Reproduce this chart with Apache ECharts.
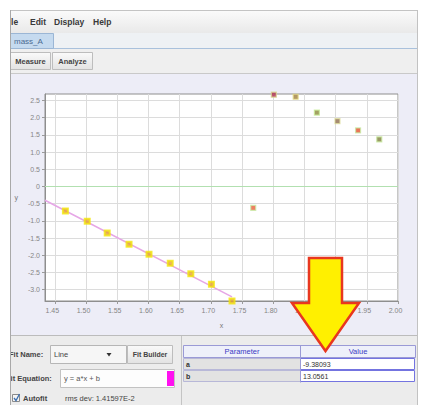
<!DOCTYPE html>
<html>
<head>
<meta charset="utf-8">
<script src="https://cdn.jsdelivr.net/npm/echarts@6/dist/echarts.min.js"></script>
<style>
  html, body { margin: 0; padding: 0; background: #fff; }
  #chart { width: 421px; height: 405px; }
</style>
</head>
<body>
<div id="chart"></div>
<script>
// Points included in the straight-line fit
const fitX = [1.467, 1.502, 1.534, 1.569, 1.601, 1.635, 1.668, 1.701, 1.734];
const fitY = [-0.71, -1.01, -1.35, -1.68, -1.97, -2.23, -2.54, -2.84, -3.33];

// Remaining measured points
const otherX = [1.768, 1.801, 1.836, 1.870, 1.903, 1.936, 1.970];
const otherY = [-0.62, 2.67, 2.61, 2.15, 1.90, 1.63, 1.37];

// Fit model y = a*x + b and its parameters
const fitEquation = 'y = a*x + b';
const paramNames = ['a', 'b'];
const paramValues = [-9.38093, 13.0561];
const rmsText = 'rms dev: 1.41597E-2';

// Axis ranges and tick labels
const xRange = [1.4343, 2.0];
const yRange = [-3.33, 2.69];
const xTicks = [1.45, 1.50, 1.55, 1.60, 1.65, 1.70, 1.75, 1.80, 1.85, 1.90, 1.95, 2.00];
const yTicks = [-3.0, -2.5, -2.0, -1.5, -1.0, -0.5, 0, 0.5, 1.0, 1.5, 2.0, 2.5];

// Marker colours for the unfitted points
const otherColors = ['#e8603c', '#b03050', '#a08040', '#8c8a3c', '#906e50', '#e4522e', '#80803e'];
const otherBorders = ['#c8eca8', '#d8d890', '#e8e088', '#c8ec98', '#e0e0a0', '#c8eca8', '#c8e8a0'];

const FONT = '"Liberation Sans", Arial, sans-serif';

const chart = echarts.init(document.getElementById('chart'), null, { renderer: 'svg' });

// straight line from the fit parameters, over the fitted span
const a = paramValues[0], b = paramValues[1];
const lineStart = xRange[0];
const lineEnd = Math.max.apply(null, fitX);
const fitLine = [[lineStart, a * lineStart + b], [lineEnd, a * lineEnd + b]];

function txt(text, x, y, opt) {
  opt = opt || {};
  return {
    type: 'text', z: opt.z || 5, silent: true,
    style: {
      text: text, x: x, y: y,
      font: (opt.weight || 'normal') + ' ' + (opt.size || 8) + 'px ' + FONT,
      fill: opt.color || '#333',
      align: opt.align || 'left', textAlign: opt.align || 'left',
      verticalAlign: 'middle', textVerticalAlign: 'middle'
    }
  };
}
function box(x, y, w, h, fill, stroke, z) {
  return {
    type: 'rect', z: z || 1, silent: true,
    shape: { x: x, y: y, width: w, height: h },
    style: { fill: fill, stroke: stroke || null, lineWidth: stroke ? 1 : 0 }
  };
}
function hline(x1, x2, y, color, z) {
  return { type: 'line', z: z || 2, silent: true, shape: { x1: x1, y1: y, x2: x2, y2: y }, style: { stroke: color, lineWidth: 1 } };
}
function vline(x, y1, y2, color, z) {
  return { type: 'line', z: z || 2, silent: true, shape: { x1: x, y1: y1, x2: x, y2: y2 }, style: { stroke: color, lineWidth: 1 } };
}
function grad(top, bottom) {
  return new echarts.graphic.LinearGradient(0, 0, 0, 1, [{ offset: 0, color: top }, { offset: 1, color: bottom }]);
}

const ui = [
  // menu bar
  box(10, 10, 408, 23, grad('#fbfbfb', '#e9e9e9')),
  hline(10, 418, 10.5, '#c4c4c4'),
  txt('File', 3.5, 22, { weight: 'bold', size: 8.5, color: '#3a3a3a' }),
  txt('Edit', 30, 22, { weight: 'bold', size: 8.5, color: '#3a3a3a' }),
  txt('Display', 54, 22, { weight: 'bold', size: 8.5, color: '#3a3a3a' }),
  txt('Help', 93, 22, { weight: 'bold', size: 8.5, color: '#3a3a3a' }),

  // document tab strip
  box(10, 33, 408, 16, '#eef1f4'),
  hline(10, 418, 48.5, '#a9c1dc'),
  box(10.5, 33.5, 43, 15, '#c5daef', '#9bb6d5', 3),
  txt('mass_A', 14, 41, { size: 8, color: '#4b6a92' }),

  // Measure / Analyze buttons
  box(10, 49, 408, 24, '#efefef'),
  box(10.5, 52.5, 40, 17, grad('#fafafa', '#e3e3e3'), '#bdbdbd', 3),
  box(52.5, 52.5, 40, 17, grad('#fafafa', '#e3e3e3'), '#bdbdbd', 3),
  txt('Measure', 30.5, 61, { weight: 'bold', size: 7.5, color: '#444', align: 'center' }),
  txt('Analyze', 72.5, 61, { weight: 'bold', size: 7.5, color: '#444', align: 'center' }),
  hline(10, 418, 73.5, '#c9c9c9'),

  // plot panel background
  box(10, 74, 408, 262, '#ededf7', null, -1),

  // lower control area
  box(10, 336, 408, 69, '#ececec'),
  hline(10, 418, 335.5, '#bcbcbc'),
  vline(181.5, 336, 405, '#c4c4c4'),

  // fit name row
  txt('Fit Name:', 9, 354.5, { weight: 'bold', size: 7.5, color: '#444' }),
  box(50.5, 345.5, 76, 18, '#f6f6f6', '#b6b6b6', 3),
  txt('Line', 54, 354.5, { size: 7.5, color: '#444' }),
  { type: 'polygon', z: 4, silent: true, shape: { points: [[106.5, 353], [111.5, 353], [109, 356.5]] }, style: { fill: '#333' } },
  box(127.5, 345.5, 45, 18, grad('#fafafa', '#e2e2e2'), '#bdbdbd', 3),
  txt('Fit Builder', 150, 354.5, { weight: 'bold', size: 7, color: '#444', align: 'center' }),

  // fit equation row
  txt('Fit Equation:', 6, 378, { weight: 'bold', size: 7.5, color: '#444' }),
  box(60.5, 369.5, 114, 18, '#fdfdfd', '#c2c2c2', 3),
  txt(fitEquation, 64, 378, { size: 7.5, color: '#555' }),
  box(167, 371, 7, 15, '#ff10f0', null, 4),

  // autofit row
  box(12.5, 394.5, 7, 7, '#f4f4f4', '#8a8a8a', 3),
  { type: 'polyline', z: 4, silent: true, shape: { points: [[14, 398], [16, 400.5], [19.5, 394]] }, style: { stroke: '#3b6fb0', lineWidth: 1.3, fill: null } },
  txt('Autofit', 23, 398.5, { weight: 'bold', size: 7.5, color: '#444' }),
  txt(rmsText, 65, 398.5, { size: 7.5, color: '#444' }),

  // parameter table
  box(183.5, 345.5, 232, 12, '#eef0fa', '#9a9ad6', 3),
  vline(300.5, 345.5, 382.5, '#9a9ad6', 4),
  txt('Parameter', 242, 351.5, { size: 7.5, color: '#3a3ac4', align: 'center' }),
  txt('Value', 358, 351.5, { size: 7.5, color: '#3a3ac4', align: 'center' }),
  box(183.5, 358.5, 117, 11, '#e2e2e2', '#b8b8d8', 3),
  box(183.5, 370.5, 117, 11, '#e2e2e2', '#b8b8d8', 3),
  box(300.5, 358.5, 114, 11, '#ffffff', '#7474e0', 3),
  box(300.5, 370.5, 114, 11, '#ffffff', '#7474e0', 3),
  txt(paramNames[0], 186, 364.5, { weight: 'bold', size: 7, color: '#333' }),
  txt(paramNames[1], 186, 376.5, { weight: 'bold', size: 7, color: '#333' }),
  txt(String(paramValues[0]), 303, 364.5, { size: 7, color: '#333' }),
  txt(String(paramValues[1]), 303, 376.5, { size: 7, color: '#333' }),

  // window edges
  vline(10.5, 10, 405, '#a9a9a9', 40),
  vline(417.5, 10, 405, '#c2c2c2', 40),
  box(0, 0, 10, 405, '#ffffff', null, 50),
  box(418, 0, 3, 405, '#ffffff', null, 50),

  // highlight arrow pointing at the parameter table
  {
    type: 'polygon', z: 60, silent: true,
    shape: { points: [[309, 258], [342, 258], [342, 303], [359, 303], [325.5, 351], [292, 303], [309, 303]] },
    style: { fill: '#fff000', stroke: '#e8371f', lineWidth: 2.5, lineJoin: 'miter' }
  }
];

const axisLabelStyle = { fontSize: 7, color: '#858585', fontFamily: FONT };

const option = {
  animation: false,
  backgroundColor: '#ffffff',
  grid: {
    left: 45, top: 94, width: 353, height: 207,
    show: true, backgroundColor: '#ffffff', borderColor: '#8e8e8e', borderWidth: 1,
    containLabel: false, outerBoundsMode: 'none'
  },
  xAxis: {
    type: 'value', min: xRange[0], max: xRange[1],
    name: 'x', nameLocation: 'middle', nameGap: 21,
    nameTextStyle: { fontSize: 7, color: '#777', fontFamily: FONT },
    axisLine: { show: true, onZero: false, lineStyle: { color: '#8e8e8e' } },
    axisTick: { show: true, length: 3, customValues: xTicks, lineStyle: { color: '#9a9a9a' } },
    axisLabel: Object.assign({ customValues: xTicks, margin: 6, padding: [0, 5, 0, 0], formatter: v => v.toFixed(2) }, axisLabelStyle),
    splitLine: { show: true, lineStyle: { color: '#dcdcdc', width: 1 } }
  },
  yAxis: {
    type: 'value', min: yRange[0], max: yRange[1],
    name: 'y', nameLocation: 'middle', nameGap: 27, nameRotate: 0,
    nameTextStyle: { fontSize: 7, color: '#777', fontFamily: FONT },
    axisLine: { show: true, onZero: false, lineStyle: { color: '#8e8e8e' } },
    axisTick: { show: true, length: 3, customValues: yTicks, lineStyle: { color: '#9a9a9a' } },
    axisLabel: Object.assign({ customValues: yTicks, margin: 5, formatter: v => (v === 0 ? '0' : v.toFixed(1)) }, axisLabelStyle),
    splitLine: { show: true, lineStyle: { color: '#dcdcdc', width: 1 } }
  },
  series: [
    {
      name: 'fit', type: 'line', data: fitLine, showSymbol: false, symbol: 'none', silent: true, z: 3,
      lineStyle: { color: '#e6a6e6', width: 1.6 },
      markLine: {
        silent: true, symbol: 'none', label: { show: false },
        lineStyle: { color: '#b2e0b0', width: 1, type: 'solid' },
        data: [{ yAxis: 0 }]
      }
    },
    {
      name: 'fitted points', type: 'scatter', z: 4,
      data: fitX.map((x, i) => [x, fitY[i]]),
      symbol: 'rect', symbolSize: 5,
      itemStyle: { color: '#e6a431', borderColor: '#f3e60c', borderWidth: 2 }
    },
    {
      name: 'other points', type: 'scatter', z: 4,
      data: otherX.map((x, i) => ({
        value: [x, otherY[i]],
        itemStyle: { color: otherColors[i], borderColor: otherBorders[i] }
      })),
      symbol: 'rect', symbolSize: 5,
      itemStyle: { borderWidth: 1.2 }
    }
  ],
  graphic: { elements: ui }
};

chart.setOption(option);
</script>
</body>
</html>
